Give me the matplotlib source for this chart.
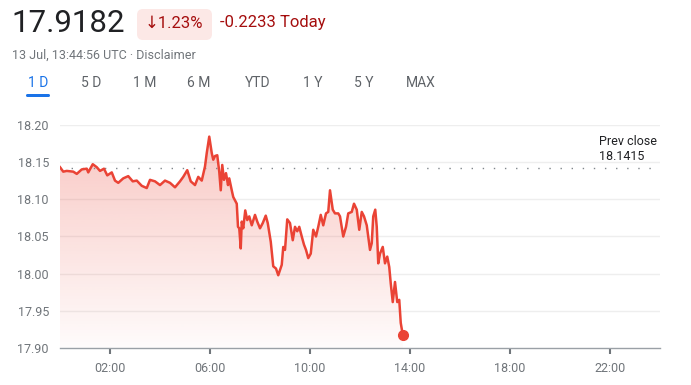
import numpy as np
import matplotlib
matplotlib.use('Agg')
import matplotlib.pyplot as plt
import matplotlib.patches as patches
from matplotlib.transforms import IdentityTransform

plt.rcParams['font.family'] = ['Roboto', 'DejaVu Sans']

# intraday price, hours since 00:00 UTC
horas = [0.00, 0.13, 0.27, 0.53, 0.67, 0.87, 1.07, 1.13, 1.31, 1.47, 1.60, 1.76, 1.89,
         2.07, 2.20, 2.33, 2.53, 2.73, 2.91, 3.07, 3.27, 3.47, 3.60, 3.80, 4.00, 4.20,
         4.40, 4.60, 4.80, 4.93, 5.09, 5.23, 5.40, 5.53, 5.67, 5.80, 5.87, 5.97, 6.07,
         6.13, 6.20, 6.29, 6.37, 6.43, 6.49, 6.56, 6.64, 6.72, 6.77, 6.87, 6.93, 7.07,
         7.12, 7.17, 7.23, 7.27, 7.33, 7.41, 7.49, 7.57, 7.67, 7.80, 7.89, 8.00, 8.11,
         8.23, 8.31, 8.43, 8.53, 8.64, 8.73, 8.87, 8.93, 9.00, 9.09, 9.20, 9.31, 9.40,
         9.49, 9.57, 9.67, 9.76, 9.84, 9.93, 10.03, 10.13, 10.24, 10.33, 10.43, 10.53,
         10.64, 10.73, 10.80, 10.91, 11.00, 11.13, 11.20, 11.33, 11.44, 11.53, 11.67,
         11.76, 11.87, 11.97, 12.07, 12.16, 12.27, 12.40, 12.47, 12.53, 12.61, 12.67,
         12.73, 12.80, 12.91, 13.00, 13.09, 13.17, 13.23, 13.31, 13.40, 13.49, 13.57,
         13.63, 13.71]
precios = [18.143, 18.137, 18.138, 18.137, 18.134, 18.140, 18.141, 18.136, 18.147, 18.143,
           18.138, 18.141, 18.132, 18.136, 18.125, 18.122, 18.128, 18.131, 18.124, 18.125,
           18.118, 18.115, 18.126, 18.124, 18.119, 18.125, 18.122, 18.116, 18.124, 18.130,
           18.139, 18.124, 18.119, 18.130, 18.125, 18.144, 18.162, 18.184, 18.162, 18.153,
           18.158, 18.159, 18.137, 18.112, 18.146, 18.126, 18.135, 18.119, 18.128, 18.112,
           18.103, 18.094, 18.063, 18.061, 18.034, 18.070, 18.061, 18.085, 18.072, 18.077,
           18.065, 18.079, 18.070, 18.061, 18.068, 18.078, 18.068, 18.043, 18.010, 18.007,
           17.998, 18.012, 18.036, 18.032, 18.073, 18.068, 18.045, 18.063, 18.057, 18.063,
           18.050, 18.039, 18.032, 18.021, 18.027, 18.059, 18.050, 18.063, 18.079, 18.065,
           18.081, 18.083, 18.112, 18.086, 18.081, 18.081, 18.077, 18.050, 18.063, 18.081,
           18.083, 18.094, 18.086, 18.059, 18.083, 18.077, 18.065, 18.032, 18.041, 18.077,
           18.086, 18.063, 18.014, 18.027, 18.036, 18.014, 18.023, 18.009, 17.987, 17.962,
           17.989, 17.962, 17.965, 17.934, 17.9182]

cierre_previo = 18.1415
y_ticks = [17.90, 17.95, 18.00, 18.05, 18.10, 18.15, 18.20]
x_ticks = [2, 6, 10, 14, 18, 22]
x_labels = ['02:00', '06:00', '10:00', '14:00', '18:00', '22:00']
pestanas = ['1 D', '5 D', '1 M', '6 M', 'YTD', '1 Y', '5 Y', 'MAX']
pestanas_x = [38, 91, 145, 199, 258, 313, 364, 421]

ROJO = '#ea4335'
W, H = 691, 385

fig = plt.figure(figsize=(W / 100, H / 100), dpi=100)


def fx(x):
    return x / W


def fy(y):
    return 1 - y / H


ax = fig.add_axes([fx(60), fy(348.3), fx(660) - fx(60), fy(124.7) - fy(348.3)])
ax.set_xlim(0, 24)
ax.set_ylim(17.90, 18.20)

# gridlines
for v in y_ticks[1:]:
    ax.axhline(v, color='#eeeeee', lw=1, zorder=0)

# gradient under the line
poly = ax.fill_between(horas, precios, 17.90, color='none', lw=0)
alpha = np.linspace(0.02, 0.28, 256).reshape(-1, 1)
grad = np.zeros((256, 1, 4))
grad[..., 0] = 234 / 255
grad[..., 1] = 67 / 255
grad[..., 2] = 53 / 255
grad[..., 3] = alpha
img = ax.imshow(grad, extent=[0, 24, 17.90, 18.17], origin='lower', aspect='auto', zorder=1)
img.set_clip_path(poly.get_paths()[0], transform=ax.transData)

ax.plot(horas, precios, color=ROJO, lw=1.8, zorder=3, solid_joinstyle='round')
ax.plot([horas[-1]], [precios[-1]], 'o', color=ROJO, ms=7, zorder=4)

# prev close
ax.axhline(cierre_previo, xmin=0, xmax=0.99, color='#80868b', lw=1, ls=(0, (1, 7)), zorder=2)
ax.text(21.56, 18.177, 'Prev close', fontsize=9, color='#202124', va='center', ha='left')
ax.text(21.56, 18.158, '18.1415', fontsize=9, color='#202124', va='center', ha='left')

for s in ['top', 'right', 'left']:
    ax.spines[s].set_visible(False)
ax.spines['bottom'].set_color('#9aa0a6')
ax.spines['bottom'].set_linewidth(1)

ax.set_yticks(y_ticks)
ax.set_yticklabels([f'{v:.2f}' for v in y_ticks])
ax.set_xticks(x_ticks)
ax.set_xticklabels(x_labels)
ax.tick_params(axis='y', length=0, pad=8, labelsize=9, labelcolor='#70757a')
ax.tick_params(axis='x', length=4, width=1.5, color='#70757a', pad=6, labelsize=9,
               labelcolor='#70757a')

# header
fig.text(fx(11), fy(24), '17.9182', fontsize=22.5, color='#202124', va='center', ha='left')
badge = patches.FancyBboxPatch((137, H - 40), 75, 31, boxstyle='round,pad=0,rounding_size=6',
                               transform=IdentityTransform(), facecolor='#fce8e6',
                               edgecolor='none')
fig.patches.append(badge)
fig.text(fx(145), fy(23), '↓1.23%', fontsize=12, color='#a50e0e', va='center', ha='left')
fig.text(fx(220), fy(23), '-0.2233 Today', fontsize=12, color='#a50e0e', va='center', ha='left')
fig.text(fx(12), fy(55), '13 Jul, 13:44:56 UTC · Disclaimer', fontsize=9, color='#70757a',
         va='center', ha='left')

for nombre, px in zip(pestanas, pestanas_x):
    col = '#1a73e8' if nombre == '1 D' else '#5f6368'
    fig.text(fx(px), fy(83), nombre, fontsize=10, color=col, va='center', ha='center')
tab = patches.FancyBboxPatch((26, H - 97), 24, 3, boxstyle='round,pad=0,rounding_size=1.5',
                             transform=IdentityTransform(), facecolor='#1a73e8', edgecolor='none')
fig.patches.append(tab)

fig.savefig('out.png', dpi=100)
